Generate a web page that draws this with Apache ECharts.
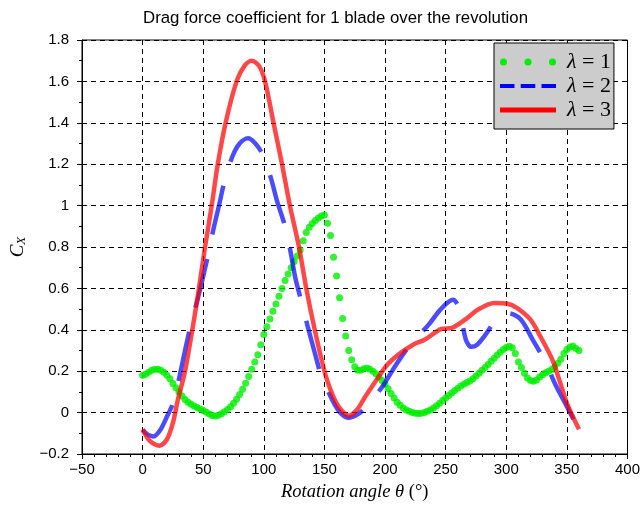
<!DOCTYPE html>
<html>
<head>
<meta charset="utf-8">
<script src="https://cdn.jsdelivr.net/npm/echarts@6/dist/echarts.min.js"></script>
<style>
  html, body { margin: 0; padding: 0; background: #fff; }
  #chart { width: 643px; height: 507px; }
</style>
</head>
<body>
<div id="chart"></div>
<script>
// Tick labels
var xTickLabels = ['\u221250', '0', '50', '100', '150', '200', '250', '300', '350', '400'];
var yTickLabels = ['\u22120.2', '0', '0.2', '0.4', '0.6', '0.8', '1', '1.2', '1.4', '1.6', '1.8'];

// Series names
var seriesNames = ['\u03bb = 1', '\u03bb = 2', '\u03bb = 3'];

// lambda = 1 : sampled every 2.5 degrees
var greenTheta = [
  0, 2.5, 5, 7.5, 10, 12.5, 15, 17.5, 20, 22.5,
  25, 27.5, 30, 32.5, 35, 37.5, 40, 42.5, 45, 47.5,
  50, 52.5, 55, 57.5, 60, 62.5, 65, 67.5, 70, 72.5,
  75, 77.5, 80, 82.5, 85, 87.5, 90, 92.5, 95, 97.5,
  100, 102.5, 105, 107.5, 110, 112.5, 115, 117.5, 120, 122.5,
  125, 127.5, 130, 132.5, 135, 137.5, 140, 142.5, 145, 147.5,
  150, 152.5, 155, 157.5, 160, 162.5, 165, 167.5, 170, 172.5,
  175, 177.5, 180, 182.5, 185, 187.5, 190, 192.5, 195, 197.5,
  200, 202.5, 205, 207.5, 210, 212.5, 215, 217.5, 220, 222.5,
  225, 227.5, 230, 232.5, 235, 237.5, 240, 242.5, 245, 247.5,
  250, 252.5, 255, 257.5, 260, 262.5, 265, 267.5, 270, 272.5,
  275, 277.5, 280, 282.5, 285, 287.5, 290, 292.5, 295, 297.5,
  300, 302.5, 305, 307.5, 310, 312.5, 315, 317.5, 320, 322.5,
  325, 327.5, 330, 332.5, 335, 337.5, 340, 342.5, 345, 347.5,
  350, 352.5, 355, 357.5, 360
];
var greenCx = [
  0.180, 0.185, 0.195, 0.205, 0.210, 0.210, 0.205, 0.195, 0.180, 0.163,
  0.140, 0.120, 0.100, 0.080, 0.063, 0.050, 0.040, 0.032, 0.025, 0.017,
  0.010, 0.002, -0.007, -0.014, -0.017, -0.013, -0.005, 0.004, 0.015, 0.028,
  0.045, 0.064, 0.087, 0.113, 0.142, 0.175, 0.210, 0.245, 0.280, 0.328,
  0.377, 0.415, 0.452, 0.490, 0.525, 0.562, 0.600, 0.638, 0.670, 0.700,
  0.730, 0.757, 0.785, 0.830, 0.870, 0.895, 0.913, 0.928, 0.940, 0.950,
  0.955, 0.915, 0.855, 0.750, 0.660, 0.555, 0.455, 0.370, 0.300, 0.255,
  0.222, 0.205, 0.205, 0.212, 0.215, 0.210, 0.200, 0.188, 0.172, 0.155,
  0.138, 0.115, 0.092, 0.070, 0.050, 0.036, 0.022, 0.013, 0.006, 0.001,
  -0.003, -0.004, -0.003, 0.001, 0.006, 0.013, 0.022, 0.033, 0.045, 0.058,
  0.070, 0.083, 0.095, 0.107, 0.118, 0.128, 0.137, 0.145, 0.153, 0.163,
  0.177, 0.190, 0.204, 0.218, 0.232, 0.248, 0.263, 0.278, 0.292, 0.305,
  0.315, 0.320, 0.313, 0.285, 0.245, 0.218, 0.190, 0.167, 0.155, 0.152,
  0.158, 0.172, 0.183, 0.192, 0.200, 0.208, 0.222, 0.238, 0.258, 0.285,
  0.305, 0.317, 0.322, 0.310, 0.300
];

// lambda = 2
var blueTheta = [
  0, 4, 9, 15, 20, 24, 29.5, 35, 40, 45.5,
  54, 58, 63, 67.5, 74, 80, 87, 93, 98.5, 105.5,
  111, 117.5, 122, 126, 131, 136.5, 142, 147.5, 157, 163,
  170, 177, 185.5, 192, 199, 210, 222, 236, 246, 256,
  259.5, 262.5, 266.5, 271, 276, 282, 293, 302, 312, 322,
  332, 340.5, 350, 360
];
var blueCx = [
  -0.085, -0.105, -0.115, -0.08, -0.02, 0.03, 0.15, 0.3, 0.43, 0.55,
  0.76, 0.875, 1.0, 1.116, 1.236, 1.3, 1.325, 1.3, 1.252, 1.14,
  1.02, 0.9, 0.778, 0.65, 0.537, 0.409, 0.29, 0.176, 0.055, 0.0,
  -0.025, -0.01, 0.031, 0.08, 0.136, 0.24, 0.337, 0.425, 0.5, 0.545,
  0.525, 0.478, 0.355, 0.318, 0.328, 0.37, 0.457, 0.48, 0.45, 0.35,
  0.248, 0.136, 0.03, -0.085
];

// lambda = 3
var redTheta = [
  0, 6, 14, 20, 25, 29, 35, 41, 46.5, 51.5,
  57, 62, 68.5, 77.5, 84, 90, 96, 101, 108, 115,
  121.5, 129, 135, 142, 150, 155, 160, 165, 170, 177,
  184, 195, 202, 211, 223.5, 233, 246.5, 255, 266, 276.5,
  290, 301, 309, 320, 328, 338, 344.5, 351, 360
];
var redCx = [
  -0.08, -0.137, -0.16, -0.13, -0.05, 0.06, 0.2, 0.4, 0.6, 0.8,
  1.0, 1.2, 1.4, 1.6, 1.675, 1.70, 1.675, 1.6, 1.4, 1.2,
  1.0, 0.8, 0.6, 0.4, 0.2, 0.11, 0.045, 0.005, -0.015, 0.015,
  0.08, 0.176, 0.232, 0.28, 0.329, 0.353, 0.404, 0.409, 0.449, 0.497,
  0.53, 0.526, 0.505, 0.449, 0.369, 0.256, 0.144, 0.031, -0.08
];

function pairs(xs, ys) {
  return xs.map(function (x, i) { return [x, ys[i]]; });
}

var xMin = -50, xMax = 400, xStep = 50;
var yMin = -0.2, yMax = 1.8, yStep = 0.2;

// Legend icons (56 x 7 boxes)
var iconDots = 'path://M0,3.5a3.5,3.5 0 1,0 7,0a3.5,3.5 0 1,0 -7,0zM24.5,3.5a3.5,3.5 0 1,0 7,0a3.5,3.5 0 1,0 -7,0zM49,3.5a3.5,3.5 0 1,0 7,0a3.5,3.5 0 1,0 -7,0z';
var iconDash = 'path://M0,0h0.01v0.01h-0.01zM0,1.5h14.5v4h-14.5zM20.75,1.5h14.5v4h-14.5zM41.5,1.5h14.5v4h-14.5zM0,6.99h0.01v0.01h-0.01z';
var iconSolid = 'path://M0,0h0.01v0.01h-0.01zM0,1h56v5h-56zM0,6.99h0.01v0.01h-0.01z';

var sans = 'Liberation Sans';
var serif = 'Liberation Serif';

var chart = echarts.init(document.getElementById('chart'), null, { renderer: 'canvas' });

chart.setOption({
  animation: false,
  backgroundColor: '#fff',
  textStyle: { fontFamily: sans, color: '#000' },
  title: {
    text: 'Drag force coefficient for 1 blade over the revolution',
    left: 330.5,
    top: 5,
    textAlign: 'center',
    textStyle: { fontFamily: sans, fontSize: 16.8, fontWeight: 'normal', color: '#000' }
  },
  grid: {
    left: 82, right: 9, top: 40, bottom: 52,
    show: true, borderColor: '#000', borderWidth: 1, backgroundColor: 'transparent'
  },
  legend: {
    orient: 'vertical',
    left: 494,
    top: 43,
    padding: [8, 3, 8, 6],
    itemWidth: 56,
    itemHeight: 7,
    itemGap: 2,
    selectedMode: false,
    backgroundColor: '#cccccc',
    borderColor: '#000',
    borderWidth: 1,
    borderRadius: 0,
    formatter: function (name) {
      return '{g|\u03bb}{n|' + name.slice(1) + '}';
    },
    textStyle: {
      padding: [0, 0, 0, 6],
      rich: {
        g: { fontFamily: serif, fontStyle: 'italic', fontSize: 22, color: '#000' },
        n: { fontFamily: serif, fontSize: 22, color: '#000' }
      }
    },
    data: [
      { name: seriesNames[0], icon: iconDots, itemStyle: { color: '#00ee00', opacity: 1 } },
      { name: seriesNames[1], icon: iconDash, itemStyle: { color: '#0000ff', opacity: 1 } },
      { name: seriesNames[2], icon: iconSolid, itemStyle: { color: '#ff0000', opacity: 1 } }
    ]
  },
  xAxis: {
    type: 'value',
    min: xMin, max: xMax, interval: xStep,
    name: '{i|Rotation angle \u03b8 }{u|(\u00b0)}',
    nameLocation: 'middle',
    nameGap: 29,
    nameTextStyle: {
      rich: {
        i: { fontFamily: serif, fontStyle: 'italic', fontSize: 18.5, color: '#000' },
        u: { fontFamily: serif, fontSize: 18.5, color: '#000' }
      }
    },
    axisLine: { onZero: false, lineStyle: { color: '#000', width: 1 } },
    axisTick: { inside: false, length: 5, lineStyle: { color: '#000' } },
    minorTick: { show: true, splitNumber: 5, length: 3, lineStyle: { color: '#000' } },
    axisLabel: {
      color: '#000', fontFamily: sans, fontSize: 15, margin: 8,
      formatter: function (v) { return xTickLabels[Math.round((v - xMin) / xStep)]; }
    },
    splitLine: { show: true, lineStyle: { color: '#000', type: [5, 4], width: 1 } }
  },
  yAxis: {
    type: 'value',
    min: yMin, max: yMax, interval: yStep,
    name: '{c|C}{s|X}',
    nameLocation: 'middle',
    nameRotate: 90,
    nameGap: 52,
    nameTextStyle: {
      rich: {
        c: { fontFamily: serif, fontStyle: 'italic', fontSize: 19, color: '#000' },
        s: { fontFamily: serif, fontStyle: 'italic', fontSize: 13, color: '#000', padding: [9, 0, 0, 0] }
      }
    },
    axisLine: { onZero: false, lineStyle: { color: '#000', width: 1 } },
    axisTick: { inside: false, length: 5, lineStyle: { color: '#000' } },
    minorTick: { show: true, splitNumber: 2, length: 3, lineStyle: { color: '#000' } },
    axisLabel: {
      color: '#000', fontFamily: sans, fontSize: 15, margin: 13,
      formatter: function (v) { return yTickLabels[Math.round((v - yMin) / yStep)]; }
    },
    splitLine: { show: true, lineStyle: { color: '#000', type: [5, 4], width: 1 } }
  },
  series: [
    {
      name: seriesNames[0],
      type: 'scatter',
      data: pairs(greenTheta, greenCx),
      symbol: 'circle',
      symbolSize: 7,
      itemStyle: { color: '#00ee00' }
    },
    {
      name: seriesNames[1],
      type: 'line',
      data: pairs(blueTheta, blueCx),
      smooth: 0.3,
      showSymbol: false,
      color: '#0000ff',
      lineStyle: { color: 'rgba(0,0,255,0.7)', width: 4.5, type: [50, 25], cap: 'butt' }
    },
    {
      name: seriesNames[2],
      type: 'line',
      data: pairs(redTheta, redCx),
      smooth: 0.3,
      showSymbol: false,
      color: '#ff0000',
      lineStyle: { color: 'rgba(255,0,0,0.72)', width: 4.5 }
    }
  ]
});
</script>
</body>
</html>
